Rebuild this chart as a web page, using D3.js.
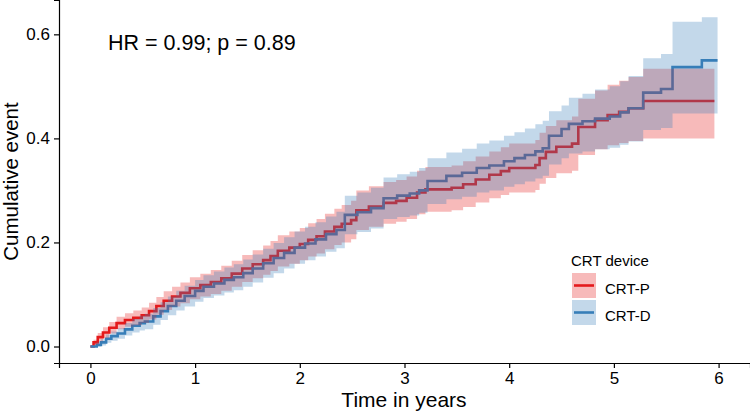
<!DOCTYPE html>
<html>
<head>
<meta charset="utf-8">
<script src="https://cdn.jsdelivr.net/npm/d3@7"></script>
<style>
  body { margin: 0; background: #fff; }
  svg { display: block; }
  text { font-family: "Liberation Sans", Arial, sans-serif; }
</style>
</head>
<body>
<svg id="chart" width="750" height="414"></svg>
<script>
// cumulative event curves (step points, years)
var timeP = [0, 0.03, 0.07, 0.12, 0.18, 0.25, 0.33, 0.41, 0.49, 0.56, 0.63, 0.70, 0.78, 0.86, 0.95,
    1.05, 1.15, 1.25, 1.35, 1.45, 1.55, 1.65, 1.72, 1.79, 1.90, 2.00, 2.08, 2.16, 2.24, 2.33, 2.40,
    2.49, 2.54, 2.66, 2.80, 2.92, 3.02, 3.12, 3.20, 3.45, 3.56, 3.68, 3.81, 3.92, 4.00, 4.25, 4.29,
    4.35, 4.45, 4.60, 4.66, 4.82, 4.94, 5.05, 5.14, 5.28, 5.96];
var estP = [0, 0.008, 0.018, 0.027, 0.036, 0.045, 0.051, 0.055, 0.060, 0.068, 0.078, 0.088, 0.096, 0.103, 0.112,
    0.118, 0.124, 0.131, 0.140, 0.150, 0.158, 0.166, 0.174, 0.184, 0.190, 0.197, 0.205, 0.212, 0.221, 0.230, 0.236,
    0.243, 0.262, 0.269, 0.276, 0.280, 0.286, 0.296, 0.302, 0.305, 0.312, 0.321, 0.330, 0.337, 0.343, 0.349, 0.362,
    0.374, 0.384, 0.390, 0.422, 0.435, 0.445, 0.451, 0.458, 0.472, 0.472];
var lowP = [0, 0.003, 0.010, 0.017, 0.025, 0.033, 0.038, 0.041, 0.045, 0.052, 0.061, 0.070, 0.077, 0.083, 0.091,
    0.096, 0.101, 0.107, 0.115, 0.124, 0.131, 0.138, 0.145, 0.154, 0.159, 0.166, 0.173, 0.179, 0.187, 0.195, 0.200,
    0.206, 0.224, 0.230, 0.236, 0.240, 0.245, 0.254, 0.259, 0.262, 0.268, 0.277, 0.285, 0.291, 0.296, 0.301, 0.313,
    0.324, 0.333, 0.338, 0.368, 0.379, 0.387, 0.391, 0.395, 0.400, 0.400];
var upP = [0, 0.013, 0.026, 0.037, 0.047, 0.057, 0.064, 0.069, 0.075, 0.084, 0.095, 0.106, 0.115, 0.123, 0.133,
    0.140, 0.147, 0.155, 0.165, 0.176, 0.185, 0.194, 0.203, 0.214, 0.221, 0.228, 0.237, 0.245, 0.255, 0.265, 0.272,
    0.280, 0.300, 0.308, 0.316, 0.320, 0.327, 0.338, 0.345, 0.348, 0.356, 0.365, 0.375, 0.383, 0.390, 0.397, 0.411,
    0.424, 0.435, 0.442, 0.476, 0.492, 0.503, 0.511, 0.518, 0.534, 0.534];

var timeD = [0, 0.06, 0.10, 0.15, 0.20, 0.26, 0.33, 0.40, 0.47, 0.52, 0.60, 0.67, 0.74, 0.82, 0.90,
    1.00, 1.08, 1.18, 1.28, 1.37, 1.46, 1.55, 1.65, 1.75, 1.85, 1.95, 2.05, 2.15, 2.25, 2.35, 2.43,
    2.55, 2.68, 2.80, 2.93, 3.05, 3.14, 3.22, 3.40, 3.55, 3.69, 3.81, 3.95, 4.05, 4.15, 4.25, 4.32,
    4.38, 4.50, 4.57, 4.70, 4.82, 4.96, 5.06, 5.14, 5.28, 5.45, 5.56, 5.84, 5.99];
var estD = [0, 0.003, 0.008, 0.015, 0.020, 0.025, 0.033, 0.040, 0.045, 0.048, 0.058, 0.068, 0.078, 0.088, 0.097,
    0.107, 0.115, 0.121, 0.128, 0.133, 0.141, 0.150, 0.160, 0.170, 0.180, 0.190, 0.198, 0.206, 0.216, 0.224, 0.253,
    0.258, 0.266, 0.285, 0.290, 0.294, 0.300, 0.318, 0.328, 0.334, 0.343, 0.348, 0.356, 0.362, 0.368, 0.375, 0.381,
    0.405, 0.418, 0.428, 0.433, 0.438, 0.442, 0.450, 0.458, 0.488, 0.495, 0.537, 0.550, 0.550];
var lowD = [0, 0.000, 0.002, 0.007, 0.011, 0.015, 0.021, 0.027, 0.031, 0.033, 0.042, 0.051, 0.060, 0.069, 0.077,
    0.086, 0.093, 0.098, 0.104, 0.108, 0.115, 0.123, 0.132, 0.141, 0.150, 0.159, 0.166, 0.173, 0.182, 0.189, 0.216,
    0.220, 0.227, 0.245, 0.249, 0.252, 0.257, 0.274, 0.283, 0.288, 0.296, 0.300, 0.307, 0.312, 0.317, 0.323, 0.328,
    0.350, 0.362, 0.371, 0.375, 0.379, 0.382, 0.388, 0.394, 0.416, 0.420, 0.448, 0.448, 0.448];
var upD = [0, 0.008, 0.014, 0.023, 0.029, 0.035, 0.045, 0.053, 0.059, 0.063, 0.074, 0.085, 0.096, 0.107, 0.117,
    0.128, 0.137, 0.144, 0.152, 0.158, 0.167, 0.177, 0.188, 0.199, 0.210, 0.221, 0.230, 0.239, 0.250, 0.259, 0.290,
    0.296, 0.305, 0.325, 0.331, 0.336, 0.343, 0.362, 0.373, 0.380, 0.390, 0.396, 0.405, 0.412, 0.419, 0.427, 0.434,
    0.452, 0.463, 0.478, 0.486, 0.494, 0.500, 0.510, 0.520, 0.554, 0.562, 0.624, 0.633, 0.633];

var groups = ["CRT-P", "CRT-D"];
var colors = ["#E41A1C", "#377EB8"];
var xTicks = [0, 1, 2, 3, 4, 5, 6];
var yTicks = [0, 0.2, 0.4, 0.6];
var annotation = "HR = 0.99; p = 0.89";

function rows(t, e, lo, hi) {
    return t.map(function (d, i) { return { t: d, e: e[i], lo: lo[i], hi: hi[i] }; });
}
var series = [rows(timeP, estP, lowP, upP), rows(timeD, estD, lowD, upD)];

var svg = d3.select("#chart");
var panelL = 59, panelR = 750, panelT = 0, panelB = 363;

var x = d3.scaleLinear().domain([-0.3, 6.3]).range([panelL, panelR]);
var y = d3.scaleLinear().domain([-0.0317, 0.666]).range([panelB, panelT]);

var line = d3.line()
    .x(function (d) { return x(d.t); })
    .y(function (d) { return y(d.e); })
    .curve(d3.curveStepAfter);
var band = d3.area()
    .x(function (d) { return x(d.t); })
    .y0(function (d) { return y(d.lo); })
    .y1(function (d) { return y(d.hi); })
    .curve(d3.curveStepAfter);

// lines sit under the ribbons, like in the figure
series.forEach(function (s, i) {
    svg.append("path").attr("d", line(s))
        .attr("fill", "none").attr("stroke", colors[i]).attr("stroke-width", 2.6);
});
series.forEach(function (s, i) {
    svg.append("path").attr("d", band(s))
        .attr("fill", colors[i]).attr("fill-opacity", 0.3).attr("stroke", "none");
});

// axes
var xAxis = svg.append("g").attr("transform", "translate(0," + panelB + ")")
    .call(d3.axisBottom(x).tickValues(xTicks).tickFormat(d3.format("d")).tickSizeOuter(0).tickSize(5).tickPadding(4));
var yAxis = svg.append("g").attr("transform", "translate(" + panelL + ",0)")
    .call(d3.axisLeft(y).tickValues(yTicks).tickFormat(d3.format(".1f")).tickSizeOuter(0).tickSize(5).tickPadding(4));
[xAxis, yAxis].forEach(function (g) {
    g.select(".domain").attr("stroke", "#000").attr("stroke-width", 1.2);
    g.selectAll(".tick line").attr("stroke", "#000").attr("stroke-width", 1.2);
    g.selectAll(".tick text").attr("font-size", "17px").attr("fill", "#000")
        .attr("font-family", "Liberation Sans, Arial, sans-serif");
});

svg.append("text").attr("x", 404).attr("y", 407)
    .attr("text-anchor", "middle").attr("font-size", "21px").text("Time in years");
svg.append("text").attr("transform", "translate(18," + ((panelT + panelB) / 2) + ") rotate(-90)")
    .attr("text-anchor", "middle").attr("font-size", "20.5px").text("Cumulative event");

svg.append("text").attr("x", 108).attr("y", 50).attr("font-size", "21.5px").text(annotation);

// legend
var leg = svg.append("g").attr("transform", "translate(572,0)");
leg.append("text").attr("x", -1).attr("y", 266).attr("font-size", "15px").text("CRT device");
groups.forEach(function (g, i) {
    var ky = 273 + i * 27;
    leg.append("rect").attr("x", 0).attr("y", ky).attr("width", 24).attr("height", 25)
        .attr("fill", colors[i]).attr("fill-opacity", 0.3);
    leg.append("line").attr("x1", 2).attr("x2", 22).attr("y1", ky + 12.5).attr("y2", ky + 12.5)
        .attr("stroke", colors[i]).attr("stroke-width", 2.6);
    leg.append("text").attr("x", 33).attr("y", ky + 21).attr("font-size", "15px").text(g);
});
</script>
</body>
</html>
